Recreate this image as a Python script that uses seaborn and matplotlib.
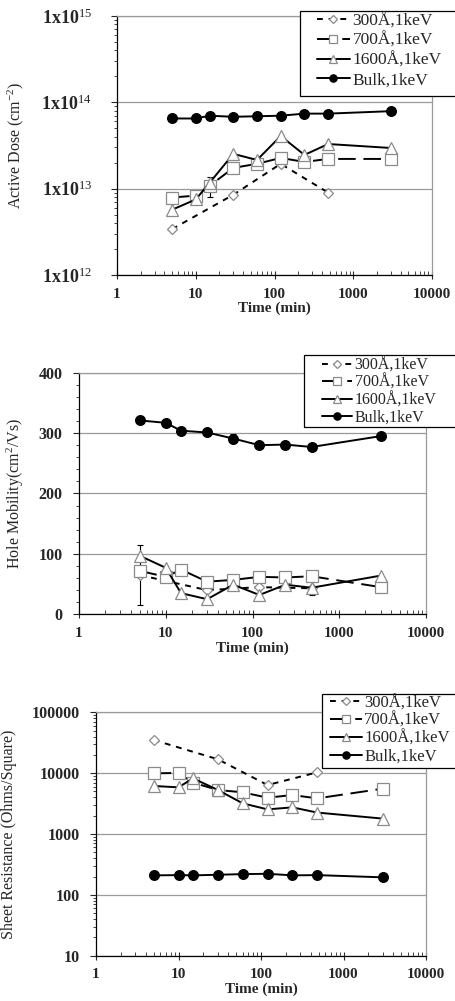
import numpy as np
import pandas as pd
import matplotlib
matplotlib.use("Agg")
import matplotlib.pyplot as plt
import seaborn as sns
from matplotlib.patches import Rectangle
from matplotlib.ticker import LogLocator, FixedLocator, NullFormatter, MultipleLocator

# ---------------- data ----------------
time_all = [5, 10, 15, 30, 60, 120, 240, 480, 3000]
time_300 = [5, 30, 120, 480]
series_labels = ["300Å,1keV", "700Å,1keV", "1600Å,1keV", "Bulk,1keV"]

dose_300 = [3.4e12, 8.5e12, 1.94e13, 9.0e12]
dose_700 = [7.9e12, 8.3e12, 1.08e13, 1.74e13, 1.94e13, 2.27e13, 2.04e13, 2.21e13, 2.21e13]
dose_1600 = [5.7e12, 7.5e12, 1.17e13, 2.53e13, 2.15e13, 4.07e13, 2.46e13, 3.29e13, 2.96e13]
dose_bulk = [6.5e13, 6.5e13, 7.0e13, 6.8e13, 6.9e13, 7.0e13, 7.4e13, 7.4e13, 7.9e13]
dose_err_700 = [0, 0, 2.8e12, 0, 0, 0, 0, 0, 0]

mob_300 = [65, 40, 45, 43]
mob_700 = [72, 62, 74, 54, 57, 62, 61, 63, 45]
mob_1600 = [97, 77, 35, 25, 49, 32, 49, 44, 64]
mob_bulk = [321, 317, 304, 301, 291, 280, 281, 277, 295]
mob_err_300 = [50, 0, 0, 0]
mob_err_1600 = [0, 0, 0, 0, 0, 0, 0, 12, 0]
mob_err_bulk = [0, 0, 0, 0, 8, 0, 0, 0, 0]

rs_300 = [35100, 16900, 6380, 10300]
rs_700 = [9930, 10080, 6980, 5290, 4840, 3950, 4370, 3850, 5560]
rs_1600 = [6150, 5850, 8220, 5290, 3190, 2540, 2740, 2250, 1790]
rs_bulk = [209, 211, 209, 214, 219, 222, 209, 211, 194]

x_ticks = [1, 10, 100, 1000, 10000]
x_tick_labels = ["1", "10", "100", "1000", "10000"]
dose_ticks = [1e12, 1e13, 1e14, 1e15]
dose_tick_labels = ["1x10$^{12}$", "1x10$^{13}$", "1x10$^{14}$", "1x10$^{15}$"]
mob_ticks = [0, 100, 200, 300, 400]
rs_ticks = [10, 100, 1000, 10000, 100000]

# ---------------- style ----------------
sns.set_style("white")
plt.rcParams["font.family"] = ["Liberation Serif", "DejaVu Serif"]
plt.rcParams["mathtext.fontset"] = "custom"
plt.rcParams["mathtext.rm"] = "Liberation Serif"
plt.rcParams["mathtext.it"] = "Liberation Serif:italic"
plt.rcParams["mathtext.bf"] = "Liberation Serif:bold"

GREY = "#8a8a8a"
styles = [
    dict(color="black", linestyle=(0, (3, 3)), lw=1.4, marker="D", markersize=5,
         mfc="white", mec=GREY, mew=0.9),
    dict(color="black", linestyle=(0, (9, 4)), lw=1.4, marker="s", markersize=8,
         mfc="white", mec=GREY, mew=0.9),
    dict(color="black", linestyle="-", lw=1.4, marker="^", markersize=8,
         mfc="white", mec=GREY, mew=0.9),
    dict(color="black", linestyle="-", lw=1.4, marker="o", markersize=7,
         mfc="black", mec="black", mew=0.9),
]

W, H = 455, 1001
fig = plt.figure(figsize=(W / 100, H / 100), dpi=100)


def px_axes(left, right, top, bottom):
    return fig.add_axes([left / W, 1 - bottom / H, (right - left) / W, (bottom - top) / H])


def draw_series(ax, xs_list, ys_list, errs):
    for xs, ys, st, lab in zip(xs_list, ys_list, styles, series_labels):
        sns.lineplot(x=xs, y=ys, ax=ax, label=lab, sort=False, errorbar=None, **st)
    for xs, ys, er in errs:
        xs = np.asarray(xs); ys = np.asarray(ys); er = np.asarray(er)
        m = er > 0
        ax.errorbar(xs[m], ys[m], yerr=er[m], fmt="none", ecolor="black",
                    elinewidth=0.8, capsize=2, capthick=0.8, zorder=1)


def style_axes(ax, ylog, ylim, yticks, yticklabels, ylabel, ytick_size, ypad, legend_box):
    ax.set_xscale("log")
    ax.set_xlim(1, 10000)
    ax.xaxis.set_major_locator(FixedLocator(x_ticks))
    ax.set_xticklabels(x_tick_labels)
    ax.xaxis.set_minor_locator(LogLocator(base=10, subs=np.arange(2, 10)))
    ax.xaxis.set_minor_formatter(NullFormatter())
    if ylog:
        ax.set_yscale("log")
        ax.yaxis.set_minor_locator(LogLocator(base=10, subs=np.arange(2, 10)))
        ax.yaxis.set_minor_formatter(NullFormatter())
    else:
        ax.yaxis.set_minor_locator(MultipleLocator(20))
    ax.set_ylim(*ylim)
    ax.yaxis.set_major_locator(FixedLocator(yticks))
    ax.set_yticklabels(yticklabels)
    ax.grid(False)
    ax.yaxis.grid(True, which="major", color="#9a9a9a", lw=0.9)
    for s in ["left", "bottom"]:
        ax.spines[s].set_color("black"); ax.spines[s].set_linewidth(0.9)
    for s in ["top", "right"]:
        ax.spines[s].set_color("#9a9a9a"); ax.spines[s].set_linewidth(0.9)
    ax.tick_params(axis="x", which="major", direction="inout", length=6, width=0.8,
                   labelsize=11, pad=6, bottom=True)
    ax.tick_params(axis="x", which="minor", direction="in", length=3, width=0.6, bottom=True)
    ax.tick_params(axis="y", which="major", direction="out", length=4, width=0.8,
                   labelsize=ytick_size, pad=ypad, left=True)
    ax.tick_params(axis="y", which="minor", direction="out", length=2.5, width=0.6, left=True)
    for t in ax.get_xticklabels() + ax.get_yticklabels():
        t.set_fontweight("bold")
    ax.set_xlabel("Time (min)", fontsize=11, fontweight="bold", labelpad=1)
    ax.set_ylabel(ylabel, fontsize=11.5)

    # legend: box (figure pixel coords) + frameless figure legend
    box_l, box_t, box_b, hx, hy, fs, sp = legend_box
    handles, labels = ax.get_legend_handles_labels()
    if ax.get_legend() is not None:
        ax.get_legend().remove()
    rect = Rectangle((box_l / W, 1 - box_b / H), (W + 5 - box_l) / W, (box_b - box_t) / H,
                     transform=fig.transFigure, facecolor="white", edgecolor="black",
                     lw=0.9, zorder=10)
    fig.add_artist(rect)
    leg = fig.legend(handles, labels, loc="upper left", bbox_to_anchor=(hx / W, 1 - hy / H),
                     bbox_transform=fig.transFigure, frameon=False, fontsize=fs,
                     borderpad=0, handlelength=1.9, handletextpad=0.15, labelspacing=sp,
                     borderaxespad=0, markerscale=0.75)
    leg.set_zorder(11)


# ---------------- panel 1 ----------------
ax1 = px_axes(117, 432, 16, 275)
draw_series(ax1, [time_300, time_all, time_all, time_all],
            [dose_300, dose_700, dose_1600, dose_bulk],
            [(time_all, dose_700, dose_err_700)])
style_axes(ax1, True, (1e12, 1e15), dose_ticks, dose_tick_labels,
           "Active Dose (cm$^{-2}$)", 13, 14, (300, 11, 96, 317, 13, 12.5, 0.2))
ax1.yaxis.set_label_coords(26 / W, 1 - 145 / H, transform=fig.transFigure)

# ---------------- panel 2 ----------------
ax2 = px_axes(79, 426, 372.7, 614.3)
draw_series(ax2, [time_300, time_all, time_all, time_all],
            [mob_300, mob_700, mob_1600, mob_bulk],
            [(time_300, mob_300, mob_err_300), (time_all, mob_1600, mob_err_1600),
             (time_all, mob_bulk, mob_err_bulk)])
style_axes(ax2, False, (0, 400), mob_ticks, [str(v) for v in mob_ticks],
           "Hole Mobility(cm$^{2}$/Vs)", 11.5, 8, (304, 355, 427, 322, 357, 11.5, 0.08))
ax2.yaxis.set_label_coords(26 / W, 1 - 494 / H, transform=fig.transFigure)

# ---------------- panel 3 ----------------
ax3 = px_axes(96, 426, 712.3, 955.7)
draw_series(ax3, [time_300, time_all, time_all, time_all],
            [rs_300, rs_700, rs_1600, rs_bulk], [])
style_axes(ax3, True, (10, 100000), rs_ticks, [str(v) for v in rs_ticks],
           "Sheet Resistance (Ohms/Square)", 11.5, 8, (322, 694, 768, 330, 695, 12, 0.1))
ax3.yaxis.set_label_coords(17 / W, 1 - 834 / H, transform=fig.transFigure)

fig.savefig("out.png", dpi=100)
